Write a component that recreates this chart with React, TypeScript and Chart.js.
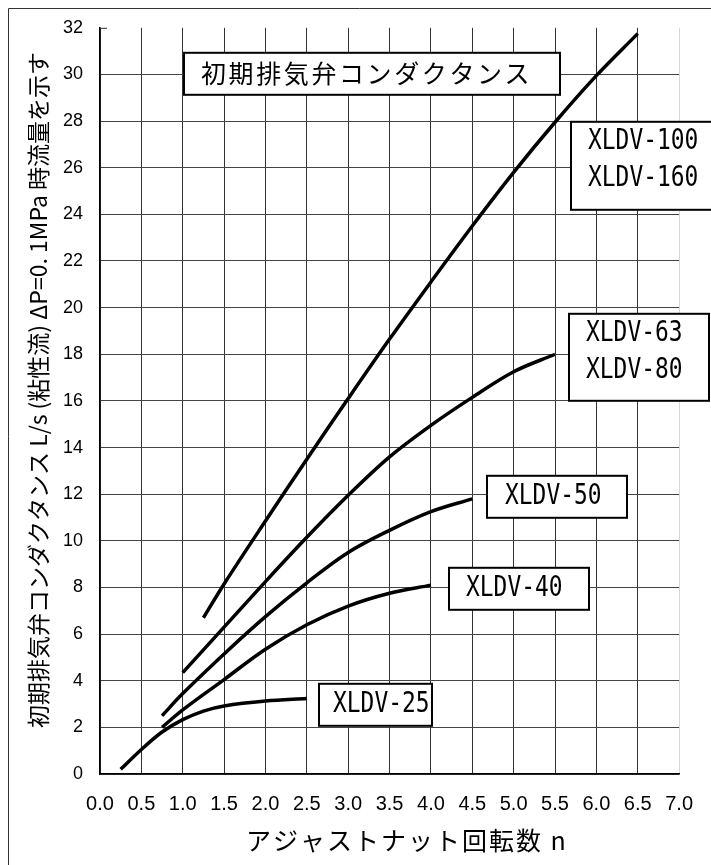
import React, { useEffect, useRef } from 'react';
import { Chart, registerables } from 'chart.js';

Chart.register(...registerables);

// ---- data ----
const xMin = 0;
const xMax = 7;
const xStep = 0.5;
const yMin = 0;
const yMax = 32;
const yStep = 2;

const n25 = [0.25, 0.5, 0.75, 1.0, 1.25, 1.5, 2.0, 2.5];
const q25 = [0.2, 1.05, 1.8, 2.33, 2.7, 2.92, 3.13, 3.24];

const n40 = [0.75, 1.0, 1.5, 2.0, 2.5, 3.0, 3.5, 4.0];
const q40 = [2.0, 2.75, 4.05, 5.35, 6.4, 7.2, 7.75, 8.1];

const n50 = [0.75, 1.0, 1.5, 2.0, 2.5, 3.0, 3.5, 4.0, 4.5];
const q50 = [2.5, 3.45, 5.15, 6.75, 8.2, 9.5, 10.45, 11.25, 11.8];

const n63 = [1.0, 1.5, 2.0, 2.5, 3.0, 3.5, 4.0, 4.5, 5.0, 5.5];
const q63 = [4.35, 6.3, 8.25, 10.15, 11.95, 13.6, 14.95, 16.15, 17.25, 18.0];

const n100 = [1.25, 1.5, 2.0, 2.5, 3.0, 3.5, 4.0, 4.5, 5.0, 5.5, 6.0, 6.5];
const q100 = [6.7, 8.15, 10.85, 13.5, 16.1, 18.65, 21.1, 23.5, 25.8, 27.95, 29.95, 31.75];

const seriesNames = ['XLDV-25', 'XLDV-40', 'XLDV-50', 'XLDV-63/80', 'XLDV-100/160'];

const chartTitle = '初期排気弁コンダクタンス';
const xTitle = 'アジャストナット回転数 n';
const yTitle = '初期排気弁コンダクタンス L/s (粘性流) ΔP=0. 1MPa 時流量を示す';

const label25 = ['XLDV-25'];
const label40 = ['XLDV-40'];
const label50 = ['XLDV-50'];
const label63 = ['XLDV-63', 'XLDV-80'];
const label100 = ['XLDV-100', 'XLDV-160'];

const toPoints = (xs: number[], ys: number[]) => xs.map((x, i) => ({ x, y: ys[i] }));

const CJK = '"Noto Sans CJK JP", "Noto Sans CJK SC", sans-serif';

function drawBox(ctx: CanvasRenderingContext2D, x: number, y: number, w: number, h: number) {
  ctx.fillStyle = '#ffffff';
  ctx.fillRect(x, y, w, h);
  ctx.strokeStyle = '#000000';
  ctx.lineWidth = 2;
  ctx.strokeRect(x, y, w, h);
}

function drawNarrow(ctx: CanvasRenderingContext2D, text: string, x: number, yc: number) {
  ctx.save();
  ctx.font = '29px "DejaVu Sans Mono", monospace';
  ctx.textBaseline = 'middle';
  ctx.textAlign = 'left';
  ctx.fillStyle = '#000000';
  ctx.translate(x, yc);
  ctx.scale(0.79, 1);
  ctx.fillText(text, 0, 0);
  ctx.restore();
}

const annotationPlugin = {
  id: 'annotationPlugin',
  afterDraw(chart: any) {
    const ctx: CanvasRenderingContext2D = chart.ctx;
    const { left, top } = chart.chartArea;
    ctx.save();

    // outer frame (left and top edges visible)
    ctx.strokeStyle = '#333333';
    ctx.lineWidth = 1;
    ctx.beginPath();
    ctx.moveTo(8.5, chart.height);
    ctx.lineTo(8.5, 8.5);
    ctx.lineTo(chart.width, 8.5);
    ctx.stroke();

    // small top tick
    ctx.beginPath();
    ctx.moveTo(left, top + 0.5);
    ctx.lineTo(left + 7, top + 0.5);
    ctx.stroke();

    // y axis title
    ctx.save();
    ctx.translate(38.5, 390);
    ctx.rotate(-Math.PI / 2);
    ctx.font = `23px ${CJK}`;
    ctx.fillStyle = '#000000';
    ctx.textAlign = 'center';
    ctx.textBaseline = 'middle';
    ctx.fillText(yTitle, 0, 0);
    ctx.restore();

    // x axis title
    ctx.save();
    ctx.font = `25px ${CJK}`;
    (ctx as any).letterSpacing = '2px';
    ctx.fillStyle = '#000000';
    ctx.textAlign = 'left';
    ctx.textBaseline = 'middle';
    ctx.fillText(xTitle, 246, 840);
    ctx.restore();

    // chart title box
    drawBox(ctx, left + 84, top + 25, 376, 42);
    ctx.save();
    ctx.font = `25px ${CJK}`;
    (ctx as any).letterSpacing = '2.6px';
    ctx.fillStyle = '#000000';
    ctx.textAlign = 'left';
    ctx.textBaseline = 'middle';
    ctx.fillText(chartTitle, left + 101, top + 46);
    ctx.restore();

    // series label boxes
    drawBox(ctx, left + 471, top + 94, 150, 88);
    drawNarrow(ctx, label100[0], left + 488, top + 114);
    drawNarrow(ctx, label100[1], left + 488, top + 151);

    drawBox(ctx, left + 469, top + 286, 140, 87);
    drawNarrow(ctx, label63[0], left + 486, top + 306);
    drawNarrow(ctx, label63[1], left + 486, top + 343);

    drawBox(ctx, left + 387, top + 448, 140, 42);
    drawNarrow(ctx, label50[0], left + 405, top + 469);

    drawBox(ctx, left + 349, top + 540, 140, 42);
    drawNarrow(ctx, label40[0], left + 366, top + 561);

    drawBox(ctx, left + 219, top + 656, 113, 42);
    drawNarrow(ctx, label25[0], left + 233, top + 677);

    ctx.restore();
  },
};

export default function App() {
  const canvasRef = useRef<HTMLCanvasElement | null>(null);

  useEffect(() => {
    const canvas = canvasRef.current;
    if (!canvas) return;
    const mk = (name: string, xs: number[], ys: number[]) => ({
      label: name,
      data: toPoints(xs, ys),
      borderColor: '#000000',
      backgroundColor: '#000000',
      borderWidth: 3.5,
      pointRadius: 0,
      tension: 0.35,
      fill: false,
    });
    const chart = new Chart(canvas, {
      type: 'line',
      data: {
        datasets: [
          mk(seriesNames[0], n25, q25),
          mk(seriesNames[1], n40, q40),
          mk(seriesNames[2], n50, q50),
          mk(seriesNames[3], n63, q63),
          mk(seriesNames[4], n100, q100),
        ],
      },
      options: {
        responsive: false,
        animation: false,
        devicePixelRatio: 1,
        layout: { padding: { left: 0, top: 24, right: 23, bottom: 0 } },
        plugins: {
          legend: { display: false },
          tooltip: { enabled: false },
          title: { display: false },
        },
        scales: {
          x: {
            type: 'linear',
            min: xMin,
            max: xMax,
            afterFit: (s: any) => {
              s.height = 91;
            },
            ticks: {
              stepSize: xStep,
              autoSkip: false,
              maxRotation: 0,
              padding: 18,
              color: '#000000',
              font: { family: '"Liberation Sans", Arial, sans-serif', size: 20 },
              callback: (v: any) => Number(v).toFixed(1),
            },
            grid: {
              drawTicks: false,
              lineWidth: 1,
              color: (c: any) => (c.tick && c.tick.value === xMax ? '#d8d8d8' : '#333333'),
            },
            border: { display: true, color: '#000000', width: 1.5 },
          },
          y: {
            type: 'linear',
            min: yMin,
            max: yMax,
            afterFit: (s: any) => {
              s.width = 100;
            },
            ticks: {
              stepSize: yStep,
              padding: 17,
              color: '#000000',
              font: { family: '"Liberation Sans", Arial, sans-serif', size: 18 },
            },
            grid: {
              drawTicks: false,
              lineWidth: 1,
              color: (c: any) => (c.tick && c.tick.value === yMax ? 'rgba(0,0,0,0)' : '#444444'),
            },
            border: { display: true, color: '#000000', width: 1.5 },
          },
        },
      },
      plugins: [annotationPlugin],
    });
    return () => chart.destroy();
  }, []);

  return (
    <div style={{ position: 'fixed', left: 0, top: 0, width: 711, height: 865, background: '#ffffff' }}>
      <canvas ref={canvasRef} width={711} height={865} style={{ display: 'block', width: 711, height: 865 }} />
    </div>
  );
}
